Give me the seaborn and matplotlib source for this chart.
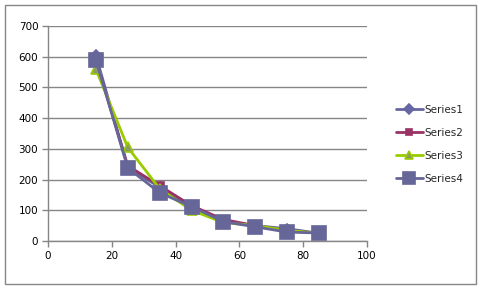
import pandas as pd
import seaborn as sns
import matplotlib.pyplot as plt
from matplotlib.patches import Rectangle

x = [15, 25, 35, 45, 55, 65, 75, 85]
series1 = [605, 240, 175, 110, 65, 50, 40, 25]
series2 = [590, 245, 180, 115, 70, 50, 35, 25]
series3 = [560, 305, 170, 100, 60, 50, 35, 25]
series4 = [590, 238, 157, 112, 63, 46, 29, 26]
names = ['Series1', 'Series2', 'Series3', 'Series4']

data = pd.DataFrame({
    'x': x * 4,
    'y': series1 + series2 + series3 + series4,
    'series': [n for n in names for _ in x],
})

colors = {'Series1': '#6666a3', 'Series2': '#993366', 'Series3': '#99cc00', 'Series4': '#666699'}
faces = {'Series1': '#6666a3', 'Series2': '#993366', 'Series3': '#8c9a6a', 'Series4': '#666699'}
markers = {'Series1': 'D', 'Series2': 's', 'Series3': '^', 'Series4': 's'}
msizes = {'Series1': 5.5, 'Series2': 5.5, 'Series3': 6.5, 'Series4': 9.5}

sns.set_style('white')
plt.rcParams['font.family'] = ['DejaVu Sans']

fig = plt.figure(figsize=(4.81, 2.89), dpi=100)
ax = fig.add_axes([48 / 481, 1 - 241 / 289, (367 - 48) / 481, (241 - 26) / 289])

for n in names:
    sub = data[data.series == n]
    sns.lineplot(data=sub, x='x', y='y', ax=ax, color=colors[n], marker=markers[n],
                 markersize=msizes[n], markerfacecolor=faces[n], markeredgecolor=colors[n],
                 markeredgewidth=1.2, linewidth=2, label=n)

ax.set_xlim(0, 100)
ax.set_ylim(0, 700)
ax.set_xticks(range(0, 101, 20))
ax.set_yticks(range(0, 701, 100))
ax.yaxis.grid(True, color='#868686', linewidth=1)
ax.set_axisbelow(True)
ax.set_xlabel('')
ax.set_ylabel('')
for s in ['top', 'right']:
    ax.spines[s].set_visible(False)
for s in ['left', 'bottom']:
    ax.spines[s].set_color('#868686')
    ax.spines[s].set_linewidth(1)
ax.tick_params(axis='both', which='both', direction='out', length=4, width=1,
               color='#868686', labelsize=7.5, labelcolor='black', pad=3,
               left=True, bottom=True)

leg = ax.legend(loc='center left', bbox_to_anchor=(1.06, 0.45), frameon=False,
                fontsize=7.5, handlelength=2.6, labelspacing=1.25, handletextpad=0.2,
                markerscale=0.85)

fig.patches.append(Rectangle((5 / 481, 5 / 289), 471 / 481, 279 / 289, transform=fig.transFigure,
                             fill=False, edgecolor='#868686', linewidth=1))

fig.savefig('out.png', dpi=100)
